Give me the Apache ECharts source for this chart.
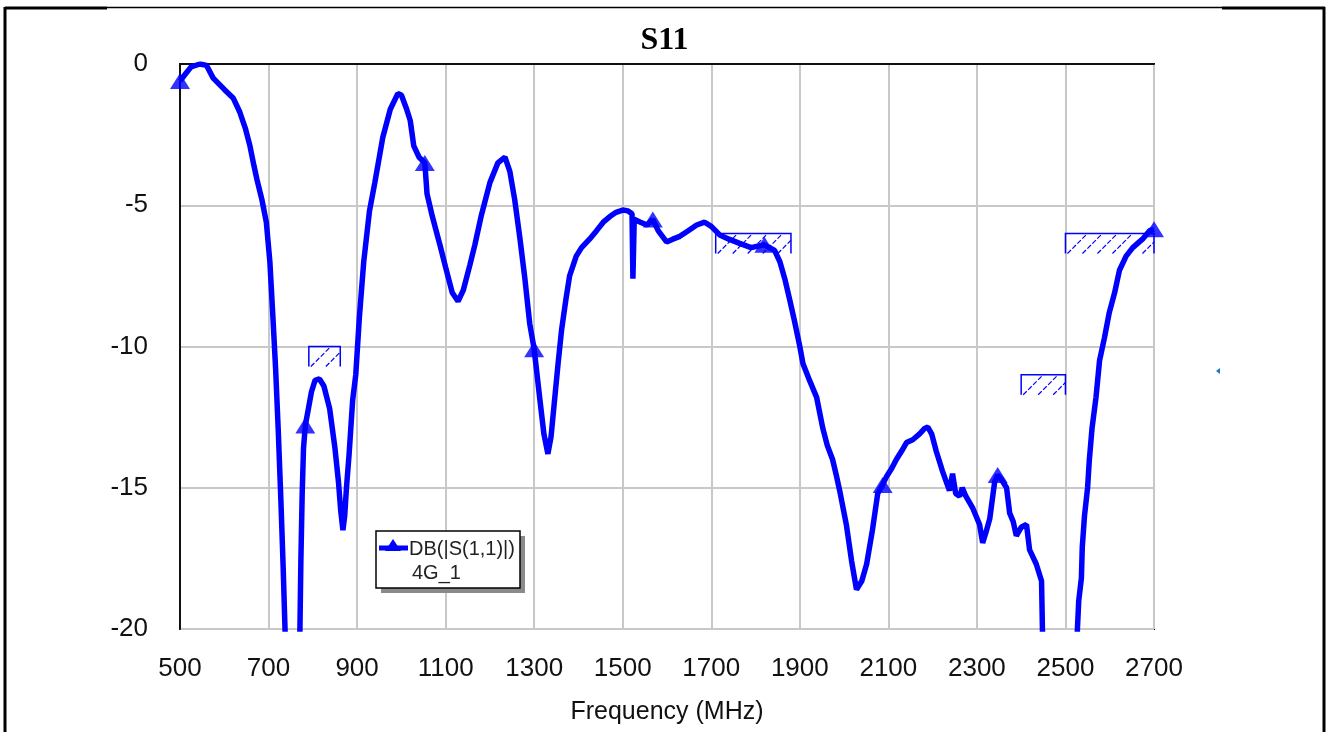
<!DOCTYPE html>
<html>
<head>
<meta charset="utf-8">
<script src="https://cdn.jsdelivr.net/npm/echarts@6/dist/echarts.min.js"></script>
<style>html,body{margin:0;padding:0;background:#fff;}#c{width:1329px;height:732px;}</style>
</head>
<body>
<div id="c"></div>
<script>
// ---- data ----
const freq = [500,510,525,545,560,575,600,620,635,648,658,667,674,685,695,703,710,716,722,728,733,737,743,756,768,771,773,776,779,783,790,797,805,815,825,838,850,858,863,868,872,876,882,890,897,905,915,928,940,958,975,992,1000,1012,1020,1028,1040,1053,1058,1070,1087,1100,1115,1128,1140,1155,1166,1180,1200,1218,1234,1245,1256,1268,1279,1290,1300,1313,1322,1331,1338,1346,1354,1362,1372,1380,1395,1407,1425,1441,1456,1471,1485,1500,1512,1521,1523,1526,1540,1555,1568,1580,1599,1613,1629,1648,1667,1685,1700,1719,1740,1764,1790,1820,1843,1855,1866,1878,1888,1900,1907,1922,1938,1952,1962,1974,1983,1990,2005,2017,2028,2040,2051,2064,2076,2087,2096,2108,2118,2130,2141,2155,2170,2182,2189,2198,2208,2222,2231,2238,2245,2252,2261,2267,2275,2290,2306,2313,2320,2329,2340,2347,2355,2367,2374,2382,2389,2400,2412,2419,2434,2446,2448,2452,2490,2524,2527,2530,2536,2538,2543,2550,2554,2560,2569,2577,2588,2599,2611,2622,2637,2652,2674,2690,2700];
const s11 = [-0.6,-0.4,-0.1,0.0,-0.05,-0.5,-0.9,-1.2,-1.7,-2.3,-2.9,-3.6,-4.1,-4.8,-5.6,-7.0,-9.0,-10.8,-13.0,-15.5,-17.8,-19.9,-23,-27,-23,-19.9,-17.6,-15.2,-13.6,-12.8,-12.2,-11.6,-11.2,-11.15,-11.4,-12.2,-13.6,-14.8,-15.8,-16.5,-16.0,-15.0,-13.8,-11.9,-11.0,-9.0,-7.0,-5.2,-4.2,-2.6,-1.6,-1.05,-1.1,-1.6,-2.0,-2.9,-3.3,-3.5,-4.6,-5.4,-6.4,-7.2,-8.1,-8.4,-8.0,-7.1,-6.4,-5.4,-4.2,-3.5,-3.3,-3.8,-4.8,-6.2,-7.6,-9.2,-10.1,-11.9,-13.1,-13.8,-13.2,-11.9,-10.6,-9.4,-8.3,-7.5,-6.8,-6.5,-6.2,-5.9,-5.6,-5.4,-5.25,-5.17,-5.2,-5.3,-7.6,-5.5,-5.6,-5.7,-5.5,-5.9,-6.3,-6.2,-6.1,-5.9,-5.7,-5.6,-5.75,-6.05,-6.2,-6.35,-6.5,-6.4,-6.6,-7.0,-7.6,-8.4,-9.1,-10.0,-10.6,-11.2,-11.8,-12.9,-13.5,-14.0,-14.6,-15.1,-16.3,-17.6,-18.6,-18.3,-17.7,-16.5,-15.2,-14.9,-14.6,-14.3,-14.0,-13.7,-13.4,-13.3,-13.1,-12.9,-12.85,-13.1,-13.7,-14.4,-14.8,-15.1,-14.5,-15.2,-15.3,-15.0,-15.3,-15.7,-16.3,-16.95,-16.6,-16.1,-14.8,-14.55,-14.7,-15.0,-15.9,-16.2,-16.7,-16.4,-16.3,-17.2,-17.7,-18.3,-20.0,-23,-30,-22,-20.0,-19.0,-18.2,-17.1,-16.0,-15.0,-14.0,-12.9,-11.8,-10.5,-9.7,-8.8,-8.1,-7.3,-6.8,-6.5,-6.2,-5.9,-5.85];
const markerFreqs = [500,783,1053,1300,1568,1820,2087,2347,2700];
// spec limit boxes
const specLow   = [791, 1710, 2400, 2500];
const specHigh  = [862, 1880, 2500, 2700];
const specLevel = [-10, -6, -11, -6];
const xTicks = {min: 500, max: 2700, step: 200};
const yTicks = {min: -20, max: 0, step: 5};
const seriesName = 'DB(|S(1,1)|)';
const seriesSub = '4G_1';

// ---- build ----
const lineData = freq.map((f, i) => [f, s11[i]]);
const markerData = markerFreqs.map(mf => lineData[freq.indexOf(mf)]);
const specData = specLow.map((l, i) => [l, specHigh[i], specLevel[i]]);
const BLUE = '#0000ff';
const FONT = '"Liberation Sans", Arial, sans-serif';

const chart = echarts.init(document.getElementById('c'), null, {renderer: 'canvas'});
chart.setOption({
  animation: false,
  backgroundColor: '#fff',
  title: {
    text: 'S11', left: 'center', top: 20,
    textStyle: {fontFamily: '"Liberation Serif", "Times New Roman", serif', fontWeight: 'bold', fontSize: 32, color: '#000'}
  },
  grid: {left: 180, right: 175, top: 64, bottom: 103, show: true, borderColor: '#111', borderWidth: 2, backgroundColor: '#fff'},
  xAxis: {
    type: 'value', min: xTicks.min, max: xTicks.max, interval: xTicks.step,
    name: 'Frequency (MHz)', nameLocation: 'middle', nameGap: 71,
    nameTextStyle: {fontFamily: FONT, fontSize: 25, color: '#111'},
    axisLine: {show: true, lineStyle: {color: '#111', width: 2}},
    axisTick: {show: false},
    axisLabel: {fontFamily: FONT, fontSize: 26, color: '#111', margin: 27, formatter: v => String(v)},
    splitLine: {show: true, lineStyle: {color: '#c8c8c8', width: 2}}
  },
  yAxis: {
    type: 'value', min: yTicks.min, max: yTicks.max, interval: yTicks.step,
    axisLine: {show: true, lineStyle: {color: '#111', width: 2}},
    axisTick: {show: false},
    axisLabel: {fontFamily: FONT, fontSize: 26, color: '#111', margin: 32, padding: [6, 0, 0, 0], formatter: v => String(v)},
    splitLine: {show: true, lineStyle: {color: '#c8c8c8', width: 2}}
  },
  series: [
    {
      type: 'custom', name: 'spec', z: 2, clip: false,
      data: specData,
      encode: {x: [0, 1], y: 2},
      renderItem: function (params, api) {
        const p0 = api.coord([api.value(0), api.value(2)]);
        const p1 = api.coord([api.value(1), api.value(2)]);
        const h = 20;
        const x0 = p0[0], x1 = p1[0], y0 = p0[1], yb = y0 + h;
        const children = [{
          type: 'polyline',
          shape: {points: [[x0, yb], [x0, y0], [x1, y0], [x1, yb]]},
          style: {stroke: BLUE, lineWidth: 1.5, fill: null}
        }];
        for (let x = x0 + 2; x < x1 - 2; x += 15) {
          let xe = x + h, ye = y0;
          if (xe > x1) { ye = y0 + (xe - x1); xe = x1; }
          children.push({
            type: 'line',
            shape: {x1: x, y1: yb, x2: xe, y2: ye},
            style: {stroke: BLUE, lineWidth: 1.2, lineDash: [5, 2]}
          });
        }
        return {type: 'group', children: children};
      }
    },
    {
      type: 'line', name: seriesName, data: lineData, z: 5,
      showSymbol: false, symbol: 'none', clip: true, smooth: false,
      lineStyle: {color: BLUE, width: 5.5}
    },
    {
      type: 'scatter', name: seriesName + ' markers', data: markerData, z: 6,
      symbol: 'triangle', symbolSize: [20, 16], clip: true,
      itemStyle: {color: BLUE}
    }
  ],
  graphic: [
    // page frame
    {type: 'line', shape: {x1: 5, y1: 8, x2: 107, y2: 8}, style: {stroke: '#000', lineWidth: 3}},
    {type: 'line', shape: {x1: 107, y1: 7.5, x2: 1222, y2: 7.5}, style: {stroke: '#000', lineWidth: 1.5}},
    {type: 'line', shape: {x1: 1222, y1: 8, x2: 1325, y2: 8}, style: {stroke: '#000', lineWidth: 3}},
    {type: 'line', shape: {x1: 5, y1: 7, x2: 5, y2: 732}, style: {stroke: '#000', lineWidth: 3}},
    {type: 'line', shape: {x1: 1324, y1: 7, x2: 1324, y2: 732}, style: {stroke: '#000', lineWidth: 3}},
    // small stray marker
    {type: 'polygon', shape: {points: [[1216, 371], [1220, 368], [1220, 374]]}, style: {fill: '#1e73c8'}},
    // legend box
    {type: 'rect', shape: {x: 381, y: 536, width: 144, height: 57}, style: {fill: '#8a8a8a'}, z: 10},
    {type: 'rect', shape: {x: 376, y: 531, width: 144, height: 57}, style: {fill: '#fff', stroke: '#000', lineWidth: 1.5}, z: 11},
    {type: 'line', shape: {x1: 379, y1: 548, x2: 408, y2: 548}, style: {stroke: BLUE, lineWidth: 5}, z: 12},
    {type: 'polygon', shape: {points: [[385, 551], [393, 539], [401, 551]]}, style: {fill: BLUE}, z: 12},
    {type: 'text', x: 409, y: 549, style: {text: seriesName, fontFamily: FONT, fontSize: 20, fill: '#222', textVerticalAlign: 'middle', verticalAlign: 'middle'}, z: 12},
    {type: 'text', x: 412, y: 573, style: {text: seriesSub, fontFamily: FONT, fontSize: 20, fill: '#222', textVerticalAlign: 'middle', verticalAlign: 'middle'}, z: 12}
  ]
});
</script>
</body>
</html>
